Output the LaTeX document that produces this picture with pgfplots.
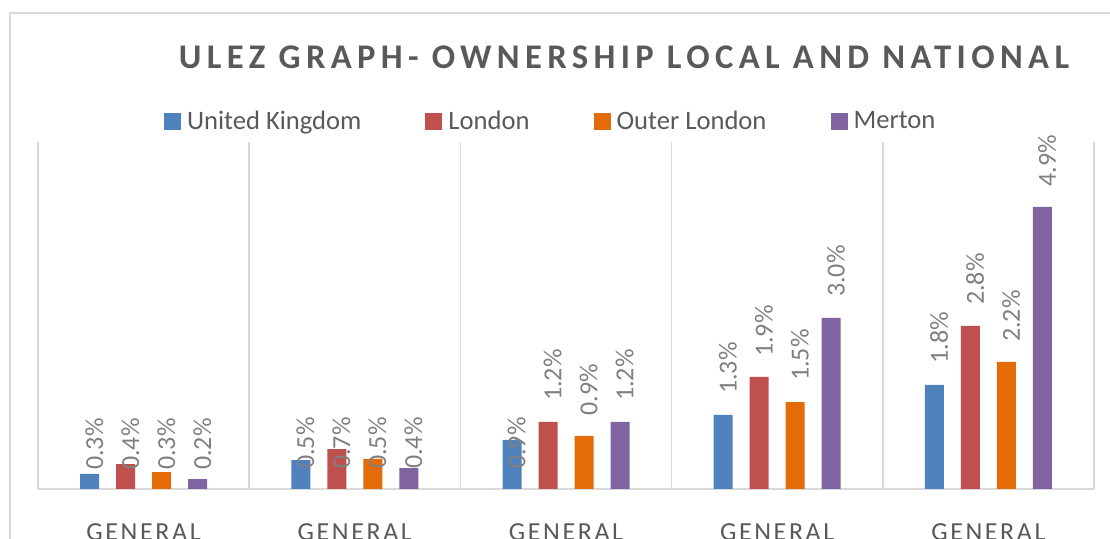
\documentclass[border=0pt]{standalone}
\usepackage{fontspec}
\setmainfont{Carlito}
\usepackage{pgfplots}
\pgfplotsset{compat=1.18}
\usepackage{pgfplotstable}
\definecolor{cuk}{HTML}{4F81BD}
\definecolor{clon}{HTML}{C0504D}
\definecolor{cout}{HTML}{E36C09}
\definecolor{cmer}{HTML}{8064A2}
\definecolor{txt}{HTML}{595959}
\definecolor{labc}{HTML}{808080}
\definecolor{grd}{HTML}{D9D9D9}

\pgfplotstableread{
x v l t
0 0.26 0.346 0.3
1 0.50 0.363 0.5
2 0.85 0.363 0.9
3 1.28 1.660 1.3
4 1.80 2.179 1.8
}\uk
\pgfplotstableread{
x v l t
0 0.43 0.346 0.4
1 0.69 0.363 0.7
2 1.16 1.539 1.2
3 1.94 2.300 1.9
4 2.82 3.199 2.8
}\lon
\pgfplotstableread{
x v l t
0 0.29 0.346 0.3
1 0.52 0.363 0.5
2 0.92 1.280 0.9
3 1.50 1.885 1.5
4 2.20 2.559 2.2
}\outl
\pgfplotstableread{
x v l t
0 0.17 0.346 0.2
1 0.36 0.363 0.4
2 1.16 1.539 1.2
3 2.96 3.337 3.0
4 4.88 5.240 4.9
}\mer

\pgfplotsset{
  mybar/.style={ybar, bar width=9.5pt, draw=none, fill=#1,
    legend image code/.code={\fill[#1] (0pt,-4.25pt) rectangle (8.5pt,4.25pt);}},
  mylab/.style={forget plot, draw=none, mark=none, nodes near coords={\pgfplotspointmeta\%},
    point meta=explicit symbolic,
    nodes near coords style={rotate=90, anchor=west, inner sep=0pt, font=\fontsize{13pt}{15pt}\selectfont, text=labc}},
}

\begin{document}
\begin{tikzpicture}
\clip (0,0) rectangle (555pt,269.5pt);
\draw[grd, line width=0.75pt] (5pt,-20pt) rectangle (600pt,263pt);
\node[anchor=base, text=txt, font={\fontsize{17.3pt}{20pt}\selectfont\bfseries\addfontfeature{LetterSpace=15.5}}] at (312pt,235pt) {ULEZ GRAPH- OWNERSHIP LOCAL AND NATIONAL};
\begin{axis}[
  at={(19pt,25pt)}, anchor=south west,
  scale only axis, width=528pt, height=173.5pt,
  xmin=-0.5, xmax=4.5, ymin=0, ymax=6,
  clip=false,
  axis x line*=bottom, axis y line*=left,
  y axis line style={draw=none},
  x axis line style={grd, line width=0.75pt, -},
  ytick=\empty,
  xtick={0,1,2,3,4},
  xticklabels={GENERAL,GENERAL,GENERAL,GENERAL,GENERAL},
  minor xtick={-0.5,0.5,1.5,2.5,3.5,4.5},
  xminorgrids,
  minor grid style={grd, line width=0.75pt},
  major tick length=0pt, minor tick length=0pt,
  xticklabel style={anchor=base, yshift=-25.85pt, text=txt, font={\fontsize{13pt}{15pt}\selectfont\addfontfeature{LetterSpace=10}}},
  legend columns=4,
  legend style={at={(0.4865,1.058)}, anchor=center, draw=none, fill=none,
    font=\fontsize{13.3pt}{15pt}\selectfont, text=txt,
    /tikz/every even column/.append style={column sep=30pt},
    /tikz/every odd column/.append style={column sep=1pt}},
]
\addplot[mybar=cuk, bar shift=-27pt] table[x=x, y=v] {\uk};
\addlegendentry{United Kingdom}
\addplot[mybar=clon, bar shift=-9pt] table[x=x, y=v] {\lon};
\addlegendentry{London}
\addplot[mybar=cout, bar shift=9pt] table[x=x, y=v] {\outl};
\addlegendentry{Outer London}
\addplot[mybar=cmer, bar shift=27pt] table[x=x, y=v] {\mer};
\addlegendentry{Merton}
\addplot[mylab] table[x expr=\thisrow{x}-0.2557+0.022, y expr=\thisrow{l}-0.02, meta=t] {\uk};
\addplot[mylab] table[x expr=\thisrow{x}-0.0852+0.022, y expr=\thisrow{l}-0.02, meta=t] {\lon};
\addplot[mylab] table[x expr=\thisrow{x}+0.0852+0.022, y expr=\thisrow{l}-0.02, meta=t] {\outl};
\addplot[mylab] table[x expr=\thisrow{x}+0.2557+0.022, y expr=\thisrow{l}-0.02, meta=t] {\mer};
\end{axis}
\end{tikzpicture}
\end{document}
